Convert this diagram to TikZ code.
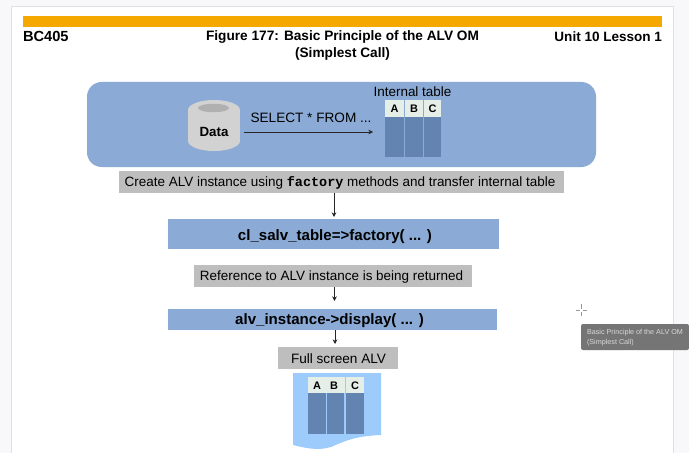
\documentclass[tikz,border=0pt]{standalone}
\usepackage{fontspec}
\setmainfont{Liberation Sans}
\setmonofont{Liberation Mono}
\usetikzlibrary{arrows.meta}
\definecolor{barorange}{HTML}{F5A800}
\definecolor{panelblue}{HTML}{8BABD6}
\definecolor{boxgrey}{HTML}{BEBEBE}
\definecolor{colblue}{HTML}{6383B0}
\definecolor{headpale}{HTML}{E6EEE8}
\definecolor{pageblue}{HTML}{9DCBFB}
\definecolor{cylgrey}{HTML}{D2D2D2}
\definecolor{cyltop}{HTML}{B0B0B0}
\definecolor{tipgrey}{HTML}{757575}
\definecolor{marginc}{HTML}{F8F8FA}
\tikzset{
  px/.style={inner sep=0pt,outer sep=0pt,anchor=center},
  greybox/.style={fill=boxgrey,draw=none},
  bluebox/.style={fill=panelblue,draw=none},
  flow/.style={draw=black!85,line width=0.7pt,-{Stealth[length=3.5pt,width=3.5pt]}},
  colbody/.style={fill=colblue,draw=none},
  colhead/.style={fill=headpale,draw=none},
  headtxt/.style={px,font=\fontsize{8.2}{9}\selectfont\bfseries}
}
\begin{document}
\begin{tikzpicture}[x=0.75pt,y=-0.75pt]
\useasboundingbox (0,0) rectangle (689,453);
% page background
\fill[marginc] (0,0) rectangle (689,453);
\fill[white] (11,6) rectangle (673,453);
\draw[black!12,line width=0.5pt] (11,453) -- (11,6) -- (673,6) -- (673,453);
\fill[barorange] (23,16) rectangle (662,27);
% header
\node[px,anchor=west,font=\bfseries\fontsize{11}{12}\selectfont] (unit) at (23,36.5) {BC405};
\node[px,align=center,font=\bfseries\fontsize{10.25}{12.6}\selectfont] (title) at (342.5,45.5) {Figure 177: Basic Principle of the ALV OM\\(Simplest Call)};
\node[px,anchor=east,font=\bfseries\fontsize{10.15}{12}\selectfont] (lesson) at (662,36.5) {Unit 10 Lesson 1};
% top panel
\fill[panelblue,rounded corners=11pt] (87,82) rectangle (596,167);
% cylinder
\fill[cylgrey] (188,110) rectangle (240,141);
\fill[cylgrey] (214,110) ellipse[x radius=26,y radius=10];
\fill[cylgrey] (214,141) ellipse[x radius=26,y radius=10];
\fill[cyltop] (213.5,108) ellipse[x radius=15.5,y radius=4.2];
\node[px,font=\bfseries\fontsize{10}{12}\selectfont] (data) at (214,132) {Data};
\coordinate (tablein) at (373,132);
\draw[flow] (data.east)+(15.5,0) -- (tablein);
\node[px,font=\fontsize{10.2}{12}\selectfont] (sel) at (311,117.5) {SELECT * FROM ...};
\node[px,font=\fontsize{10.1}{12}\selectfont] (itab) at (412.5,91.5) {Internal table};
% internal table
\foreach \a/\b/\t in {385/404/A,405/423/B,424/441/C}{
  \fill[colbody] (\a,117) rectangle (\b,157);
  \fill[colhead] (\a,100) rectangle (\b,117);
  \node[headtxt] at ({(\a+\b)/2},109) {\t};
}
% flow boxes
\fill[greybox] (119,171) rectangle (564,193);
\node[px,font=\fontsize{10.1}{12}\selectfont] (create) at (340,183) {Create ALV instance using \texttt{\bfseries factory} methods and transfer internal table};
\fill[bluebox] (168,219) rectangle (499,249);
\node[px,font=\bfseries\fontsize{11.3}{13}\selectfont] (factory) at (335,236.5) {cl\_salv\_table=>factory( ... )};
\fill[greybox] (194,265) rectangle (472,287);
\node[px,font=\fontsize{10.1}{12}\selectfont] (ref) at (331.5,277.5) {Reference to ALV instance is being returned};
\fill[bluebox] (168,309) rectangle (497,330);
\node[px,font=\bfseries\fontsize{11.3}{13}\selectfont] (disp) at (329.5,320.5) {alv\_instance->display( ... )};
\fill[greybox] (278,347) rectangle (398,369);
\node[px,font=\fontsize{10.2}{12}\selectfont] (full) at (338.5,358.5) {Full screen ALV};
\coordinate (a1s) at (334,193); \coordinate (a1e) at (334,217);
\coordinate (a2s) at (334.5,287); \coordinate (a2e) at (334.5,301);
\coordinate (a3s) at (335,330); \coordinate (a3e) at (335,344);
\draw[flow] (a1s) -- (a1e);
\draw[flow] (a2s) -- (a2e);
\draw[flow] (a3s) -- (a3e);
% page with table
\fill[pageblue] (293,373) -- (381,373) -- (381,435) .. controls (355,436) and (345,441) .. (331,447) .. controls (318,451) and (305,448) .. (293,445) -- cycle;
\fill[colbody] (308,393) rectangle (326,434);
\fill[colbody] (327,393) rectangle (344,434);
\fill[colbody] (346,393) rectangle (364,434);
\fill[colhead] (308,377) rectangle (345,393);
\fill[colhead] (346,377) rectangle (364,393);
\node[headtxt] at (317,386) {A};
\node[headtxt] at (334,386) {B};
\node[headtxt] at (355,386) {C};
% cursor and tooltip
\draw[black!40,line width=0.5pt] (581,304) -- (581,308.5) (581,311.5) -- (581,316) (575.5,310) -- (579.5,310) (582.5,310) -- (586.5,310);
\fill[tipgrey,rounded corners=1.5pt] (581,324) rectangle (689,350);
\node[px,anchor=west,text=white!85!black,align=left,font=\fontsize{5.4}{7.6}\selectfont] (tip) at (587,337.5) {Basic Principle of the ALV OM\\(Simplest Call)};
\end{tikzpicture}
\end{document}
